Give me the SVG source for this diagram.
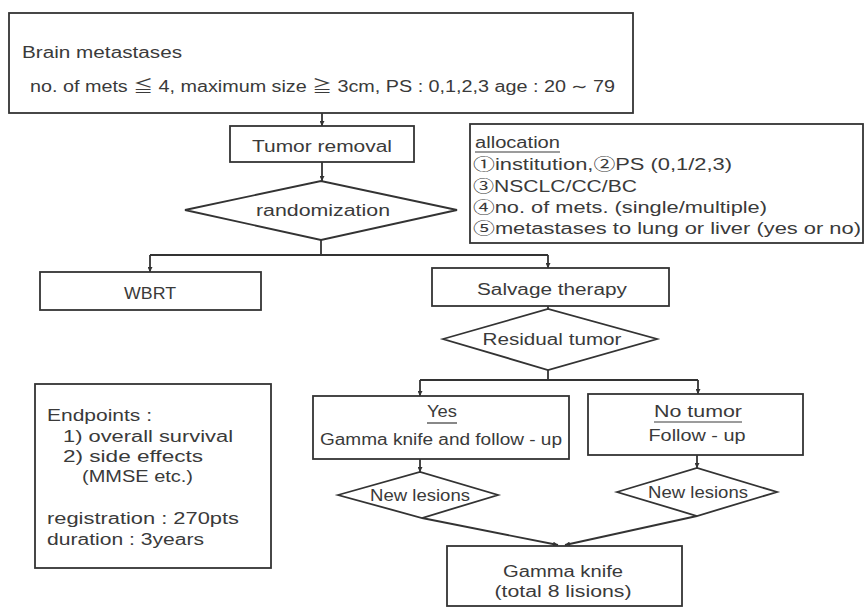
<svg xmlns="http://www.w3.org/2000/svg" width="866" height="610" viewBox="0 0 866 610">
<style>
  .box{fill:#fff;stroke:#333;stroke-width:1.8}
  .dia{fill:#fff;stroke:#333;stroke-width:1.8}
  .t{font-family:"Liberation Sans","Noto Sans CJK JP",sans-serif;fill:#3a3a3a;font-size:16px}
  .c{text-anchor:middle}
  .con{fill:none;stroke:#333;stroke-width:1.8}
  .ul{stroke:#3a3a3a;stroke-width:1.2}
</style>
<defs>
  <marker id="ah" viewBox="0 0 6 6" refX="6" refY="3" markerWidth="5" markerHeight="5" orient="auto" markerUnits="userSpaceOnUse">
    <path d="M0,0 L6,3 L0,6 z" fill="#333"/>
  </marker>
</defs>
<rect width="866" height="610" fill="#fff"/>

<g id="connectors">
  <line class="con" x1="322" y1="113" x2="322" y2="126" marker-end="url(#ah)"/>
  <line class="con" x1="322" y1="162" x2="322" y2="181" marker-end="url(#ah)"/>
  <polyline class="con" points="321,240 321,255"/>
  <line class="con" x1="150" y1="255" x2="548" y2="255"/>
  <line class="con" x1="150" y1="255" x2="150" y2="272" marker-end="url(#ah)"/>
  <line class="con" x1="548" y1="255" x2="548" y2="268" marker-end="url(#ah)"/>
  <line class="con" x1="548" y1="306" x2="548" y2="309"/>
  <line class="con" x1="548" y1="370" x2="548" y2="380"/>
  <line class="con" x1="420" y1="380" x2="698" y2="380"/>
  <line class="con" x1="420" y1="380" x2="420" y2="396" marker-end="url(#ah)"/>
  <line class="con" x1="698" y1="380" x2="698" y2="394" marker-end="url(#ah)"/>
  <line class="con" x1="420" y1="459" x2="420" y2="472" marker-end="url(#ah)"/>
  <line class="con" x1="697" y1="455" x2="697" y2="468" marker-end="url(#ah)"/>
  <line class="con" x1="422" y1="518" x2="558" y2="545" marker-end="url(#ah)"/>
  <line class="con" x1="697" y1="516" x2="565" y2="545" marker-end="url(#ah)"/>
</g>

<g id="brain-metastases">
  <rect class="box" x="9" y="13" width="624" height="100"/>
  <text class="t" x="22" y="58" font-size="17" textLength="160" lengthAdjust="spacingAndGlyphs">Brain metastases</text>
  <text class="t" x="30" y="92" font-size="17" textLength="585" lengthAdjust="spacingAndGlyphs">no. of mets ≦ 4, maximum size ≧ 3cm, PS : 0,1,2,3 age : 20 ∼ 79</text>
</g>

<g id="tumor-removal">
  <rect class="box" x="230" y="126" width="184" height="36"/>
  <text class="t c" x="322" y="152" textLength="140" lengthAdjust="spacingAndGlyphs">Tumor removal</text>
</g>

<g id="allocation">
  <rect class="box" x="470" y="124" width="393" height="119"/>
  <text class="t" x="475" y="148" font-size="15" textLength="85" lengthAdjust="spacingAndGlyphs">allocation</text>
  <line class="ul" x1="475" y1="152" x2="560" y2="152"/>
  <text class="t" x="473" y="170" font-size="15" textLength="259" lengthAdjust="spacingAndGlyphs">①institution,②PS (0,1/2,3)</text>
  <text class="t" x="473" y="192" font-size="15" textLength="164" lengthAdjust="spacingAndGlyphs">③NSCLC/CC/BC</text>
  <text class="t" x="473" y="213" font-size="15" textLength="294" lengthAdjust="spacingAndGlyphs">④no. of mets. (single/multiple)</text>
  <text class="t" x="473" y="234" font-size="15" textLength="388" lengthAdjust="spacingAndGlyphs">⑤metastases to lung or liver (yes or no)</text>
</g>

<g id="randomization">
  <polygon class="dia" points="185,210 321,181 457,210 321,240"/>
  <text class="t c" x="323" y="216" textLength="134" lengthAdjust="spacingAndGlyphs">randomization</text>
</g>

<g id="wbrt">
  <rect class="box" x="40" y="272" width="221" height="38"/>
  <text class="t c" x="150" y="299" textLength="52" lengthAdjust="spacingAndGlyphs">WBRT</text>
</g>

<g id="salvage-therapy">
  <rect class="box" x="432" y="268" width="237" height="38"/>
  <text class="t c" x="552" y="295" textLength="150" lengthAdjust="spacingAndGlyphs">Salvage therapy</text>
</g>

<g id="residual-tumor">
  <polygon class="dia" points="443,339 548,309 657,339 548,370"/>
  <text class="t c" x="552" y="345" textLength="139" lengthAdjust="spacingAndGlyphs">Residual tumor</text>
</g>

<g id="yes">
  <rect class="box" x="313" y="396" width="256" height="63"/>
  <text class="t c" x="442" y="417" textLength="30" lengthAdjust="spacingAndGlyphs">Yes</text>
  <line class="ul" x1="427" y1="423" x2="457" y2="423"/>
  <text class="t c" x="441" y="445" textLength="242" lengthAdjust="spacingAndGlyphs">Gamma knife and follow - up</text>
</g>

<g id="no-tumor">
  <rect class="box" x="588" y="394" width="215" height="61"/>
  <text class="t c" x="698" y="417" textLength="88" lengthAdjust="spacingAndGlyphs">No tumor</text>
  <line class="ul" x1="654" y1="422" x2="742" y2="422"/>
  <text class="t c" x="697" y="441" textLength="97" lengthAdjust="spacingAndGlyphs">Follow - up</text>
</g>

<g id="new-lesions-left">
  <polygon class="dia" points="338,495 420,472 498,495 422,518"/>
  <text class="t c" x="420" y="501" font-size="15" textLength="100" lengthAdjust="spacingAndGlyphs">New lesions</text>
</g>

<g id="new-lesions-right">
  <polygon class="dia" points="617,492 697,468 777,492 697,516"/>
  <text class="t c" x="698" y="498" font-size="15" textLength="100" lengthAdjust="spacingAndGlyphs">New lesions</text>
</g>

<g id="gamma-knife">
  <rect class="box" x="447" y="546" width="235" height="60"/>
  <text class="t c" x="563" y="577" textLength="120" lengthAdjust="spacingAndGlyphs">Gamma knife</text>
  <text class="t c" x="563" y="597" textLength="137" lengthAdjust="spacingAndGlyphs">(total 8 lisions)</text>
</g>

<g id="endpoints">
  <rect class="box" x="35" y="384" width="236" height="184"/>
  <text class="t" x="47" y="421" textLength="105" lengthAdjust="spacingAndGlyphs">Endpoints :</text>
  <text class="t" x="63" y="442" textLength="170" lengthAdjust="spacingAndGlyphs">1) overall survival</text>
  <text class="t" x="63" y="462" textLength="140" lengthAdjust="spacingAndGlyphs">2) side effects</text>
  <text class="t" x="82" y="482" textLength="111" lengthAdjust="spacingAndGlyphs">(MMSE etc.)</text>
  <text class="t" x="47" y="524" textLength="192" lengthAdjust="spacingAndGlyphs">registration : 270pts</text>
  <text class="t" x="47" y="545" textLength="157" lengthAdjust="spacingAndGlyphs">duration : 3years</text>
</g>
</svg>
